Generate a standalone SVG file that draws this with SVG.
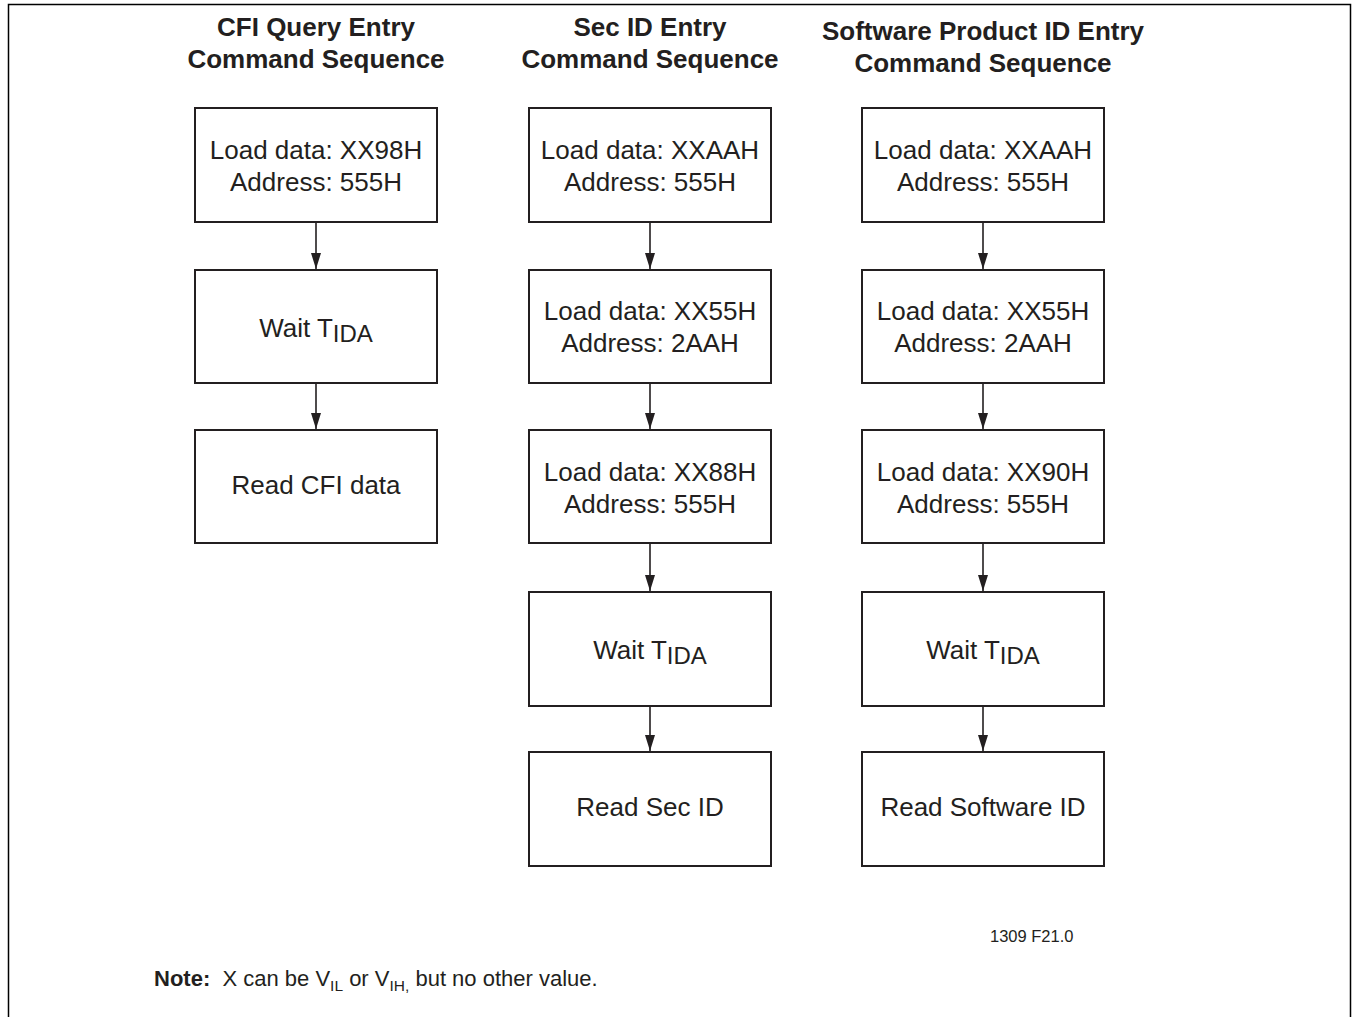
<svg xmlns="http://www.w3.org/2000/svg" width="1353" height="1017" viewBox="0 0 1353 1017">
<style>
.t{font-family:"Liberation Sans",Arial,sans-serif;font-size:26px;font-weight:bold;fill:#231f20;text-anchor:middle}
.b{font-family:"Liberation Sans",Arial,sans-serif;font-size:26px;fill:#231f20;text-anchor:middle}
.box{fill:#fff;stroke:#231f20;stroke-width:2}
.c{stroke:#231f20;stroke-width:1.6;fill:none;marker-end:url(#ah)}
.n{font-family:"Liberation Sans",Arial,sans-serif;font-size:22px;fill:#231f20;white-space:pre}
.s{font-size:24px}
</style>
<defs>
<marker id="ah" viewBox="0 0 12 16" refX="6" refY="16" markerWidth="12" markerHeight="16" markerUnits="userSpaceOnUse">
<path d="M1,0 L11,0 L6,16 z" fill="#231f20"/>
</marker>
</defs>
<rect x="8.5" y="4.5" width="1342" height="1030" fill="#fff" stroke="#000" stroke-width="1.5"/>

<g id="titles">
<text class="t" x="316" y="36">CFI Query Entry</text>
<text class="t" x="316" y="68">Command Sequence</text>
<text class="t" x="650" y="36">Sec ID Entry</text>
<text class="t" x="650" y="68">Command Sequence</text>
<text class="t" x="983" y="40">Software Product ID Entry</text>
<text class="t" x="983" y="72">Command Sequence</text>
</g>

<g id="connectors">
<path class="c" d="M316,223 V269"/>
<path class="c" d="M316,384 V429"/>
<path class="c" d="M650,223 V269"/>
<path class="c" d="M650,384 V429"/>
<path class="c" d="M650,544 V591"/>
<path class="c" d="M650,707 V751"/>
<path class="c" d="M983,223 V269"/>
<path class="c" d="M983,384 V429"/>
<path class="c" d="M983,544 V591"/>
<path class="c" d="M983,707 V751"/>
</g>

<g id="cfi1"><rect class="box" x="195" y="108" width="242" height="114"/>
<text class="b" x="316" y="159">Load data: XX98H</text><text class="b" x="316" y="191">Address: 555H</text></g>
<g id="cfi2"><rect class="box" x="195" y="270" width="242" height="113"/>
<text class="b" x="316" y="337">Wait T<tspan class="s" dy="5">IDA</tspan></text></g>
<g id="cfi3"><rect class="box" x="195" y="430" width="242" height="113"/>
<text class="b" x="316" y="494">Read CFI data</text></g>

<g id="sec1"><rect class="box" x="529" y="108" width="242" height="114"/>
<text class="b" x="650" y="159">Load data: XXAAH</text><text class="b" x="650" y="191">Address: 555H</text></g>
<g id="sec2"><rect class="box" x="529" y="270" width="242" height="113"/>
<text class="b" x="650" y="320">Load data: XX55H</text><text class="b" x="650" y="352">Address: 2AAH</text></g>
<g id="sec3"><rect class="box" x="529" y="430" width="242" height="113"/>
<text class="b" x="650" y="481">Load data: XX88H</text><text class="b" x="650" y="513">Address: 555H</text></g>
<g id="sec4"><rect class="box" x="529" y="592" width="242" height="114"/>
<text class="b" x="650" y="659">Wait T<tspan class="s" dy="5">IDA</tspan></text></g>
<g id="sec5"><rect class="box" x="529" y="752" width="242" height="114"/>
<text class="b" x="650" y="816">Read Sec ID</text></g>

<g id="sw1"><rect class="box" x="862" y="108" width="242" height="114"/>
<text class="b" x="983" y="159">Load data: XXAAH</text><text class="b" x="983" y="191">Address: 555H</text></g>
<g id="sw2"><rect class="box" x="862" y="270" width="242" height="113"/>
<text class="b" x="983" y="320">Load data: XX55H</text><text class="b" x="983" y="352">Address: 2AAH</text></g>
<g id="sw3"><rect class="box" x="862" y="430" width="242" height="113"/>
<text class="b" x="983" y="481">Load data: XX90H</text><text class="b" x="983" y="513">Address: 555H</text></g>
<g id="sw4"><rect class="box" x="862" y="592" width="242" height="114"/>
<text class="b" x="983" y="659">Wait T<tspan class="s" dy="5">IDA</tspan></text></g>
<g id="sw5"><rect class="box" x="862" y="752" width="242" height="114"/>
<text class="b" x="983" y="816">Read Software ID</text></g>

<text class="n" x="990" y="942" style="font-size:16.5px">1309 F21.0</text>
<text class="n" x="154" y="986"><tspan font-weight="bold">Note:</tspan>  X can be V<tspan font-size="15.5" dy="5">IL</tspan><tspan dy="-5"> or V</tspan><tspan font-size="15.5" dy="5">IH,</tspan><tspan dy="-5"> but no other value.</tspan></text>
</svg>
